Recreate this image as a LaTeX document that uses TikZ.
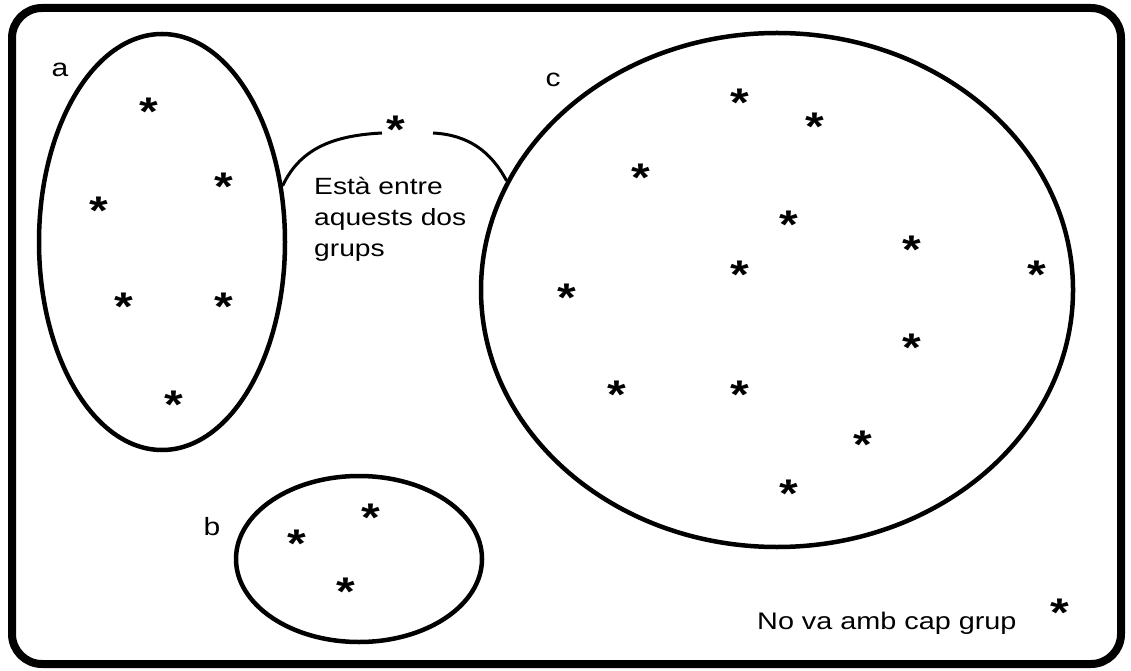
\documentclass[tikz,border=0pt]{standalone}
\usepackage{fontspec}
\setmainfont{Liberation Sans}[FakeStretch=1.2]
\usetikzlibrary{
  positioning,
  shapes.geometric
}
\tikzset{
  group/.style={
    ellipse,
    draw,
    line width=4.5pt,
    inner sep=0pt
  },
  elem/.style={
    inner sep=0pt,
    yshift=-5pt,
    font=\fontsize{40}{40}\selectfont\bfseries
  },
  tag/.style={
    inner sep=0pt,
    font=\fontsize{25}{25}\selectfont
  }
}

\begin{document}
\begin{tikzpicture}[x=1pt, y=1pt]
      \useasboundingbox (0,0) rectangle (1131,670);

      % frame
      \draw[line width=8pt, rounded corners=30pt] (12,6) rectangle (1121,662);

      % the three groups
      \node[group, minimum width=246pt, minimum height=416pt] (ga) at (162,428) {};
      \node[group, minimum width=246pt, minimum height=166pt] (gb) at (359,111) {};
      \node[group, minimum width=592pt, minimum height=514pt] (gc) at (777,380) {};

      \node[tag] (la) at (60,600) {a};
      \node[tag] (lb) at (212,143) {b};
      \node[tag] (lc) at (553,590) {c};

      % members
      \foreach \n/\x/\y in {a1/149/563, a2/224/488, a3/99/464, a4/124/368,
        a5/224/368, a6/174/270,
        b1/297/131, b2/371/157, b3/346/83,
        c1/740/572, c2/815/548, c3/641/497, c4/789/450, c5/912/425,
        c6/1037/400, c7/740/400, c8/567/377, c9/912/327, c10/617/280,
        c11/740/280, c12/863/230, c13/789/181}{
        \node[elem] (\n) at (\x,\y) {*};
      }

      % the one in between
      \node[elem] (mid) at (396,545) {*};
      \coordinate (gapL) at (382,537);
      \coordinate (gapR) at (433,537);
      \draw[line width=3pt] (ga.25) to[out=65,in=183] (gapL);
      \draw[line width=3pt] (gapR) to[out=-3,in=118] (gc.158);
      \node[anchor=north west, inner sep=0pt, align=left,
        font=\fontsize{23.5}{31}\selectfont] (txt) at (314,493)
        {Està entre\\aquests dos\\grups};

      % the one outside
      \node[anchor=base west, inner sep=0pt,
        font=\fontsize{24}{24}\selectfont] (none) at (757,41) {No va amb cap grup};
      \node[elem] (out) at (1060,62) {*};
    \end{tikzpicture}
\end{document}
